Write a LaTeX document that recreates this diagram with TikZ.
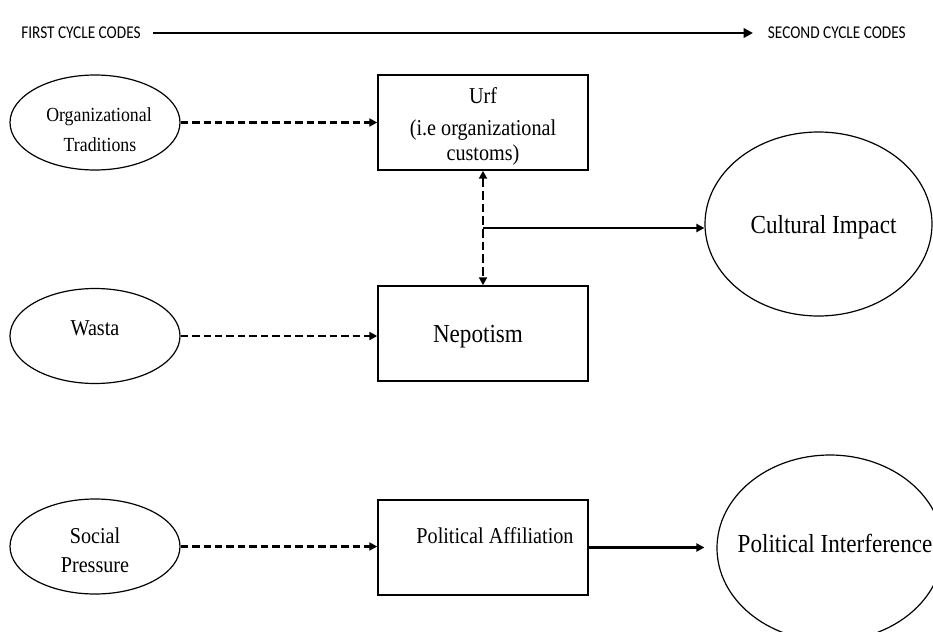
\documentclass[tikz,border=0pt]{standalone}
\usepackage{fontspec}
\setmainfont{Liberation Serif}
\newfontfamily\narrowserif[FakeStretch=0.89]{Liberation Serif}
\newfontfamily\headfont[FakeStretch=0.85]{Carlito}
\usetikzlibrary{shapes.geometric,arrows.meta,calc}

\begin{document}
\begin{tikzpicture}[x=0.75pt,y=-0.75pt,
  box/.style={draw, line width=1.1pt, minimum width=157.5pt, minimum height=71.25pt, inner sep=0pt},
  oval/.style={draw, ellipse, line width=0.9pt, inner sep=0pt},
  smalloval/.style={oval, minimum width=127.5pt, minimum height=71.25pt},
  lbl/.style={anchor=base, inner sep=0pt},
  fhead/.style={font=\headfont\fontsize{13.5}{15}\selectfont},
  fsmall/.style={font=\narrowserif\fontsize{15}{18}\selectfont},
  fmid/.style={font=\narrowserif\fontsize{17}{20}\selectfont},
  fbig/.style={font=\narrowserif\fontsize{19.5}{23}\selectfont},
  dashedarrow/.style={line width=2pt, dash pattern=on 5.6pt off 3pt, -{Triangle[length=6pt,width=6pt]}},
  dashedboth/.style={line width=2pt, dash pattern=on 6.5pt off 3pt, {Triangle[length=6pt,width=6pt]}-{Triangle[length=6pt,width=6pt]}},
  solidarrow/.style={line width=1.9pt, -{Triangle[length=6pt,width=6pt]}}
]
\clip (0,0) rectangle (933,632);
\fill[white] (0,0) rectangle (933,632);

% header: coding stages
\node[anchor=west, inner sep=0pt, fhead] (first) at (21,33) {FIRST CYCLE CODES};
\node[anchor=east, inner sep=0pt, fhead] (second) at (906,33) {SECOND CYCLE CODES};
\draw[line width=2.2pt, -{Triangle[length=7pt,width=7pt]}, shorten <=9pt, shorten >=11pt] (first.east) -- (second.west);

% first cycle codes
\node[smalloval] (org) at (95,122.5) {};
\node[lbl, fsmall] (orgA) at (99,121) {Organizational};
\node[lbl, fsmall] (orgB) at (100,151) {Traditions};

\node[smalloval] (wasta) at (95,336) {};
\node[lbl, fmid] (wastaT) at (95,335) {Wasta};

\node[smalloval] (sp) at (95,546.5) {};
\node[lbl, fmid] (spA) at (95,543) {Social};
\node[lbl, fmid] (spB) at (95,572) {Pressure};

% intermediate codes
\node[box] (urf) at (483,122.5) {};
\node[lbl, fmid] (urfA) at (483,103) {Urf};
\node[lbl, fmid] (urfB) at (483,135) {(i.e organizational};
\node[lbl, fmid] (urfC) at (483,160) {customs)};

\node[box] (nep) at (483,333.5) {};
\node[lbl, fbig] (nepT) at (478,342) {Nepotism};

\node[box] (pa) at (483,547.5) {};
\node[lbl, fmid] (paT) at (495,543) {Political Affiliation};

% second cycle codes
\node[oval, minimum width=170.25pt, minimum height=138pt] (ci) at (818.5,224) {};
\node[lbl, fbig] (ciT) at (823.5,233) {Cultural Impact};

\node[oval, minimum width=169.5pt, minimum height=139.5pt] (pi) at (830,548) {};
\node[lbl, fbig] (piT) at (835,552) {Political Interference};

% connectors
\draw[dashedarrow] (org.east) -- (urf.west);
\draw[dashedarrow] (wasta.east) -- (wasta.east -| nep.west);
\draw[dashedarrow] (sp.east) -- (sp.east -| pa.west);
\draw[dashedboth] (urf.south) -- (nep.north);
\coordinate (fork) at ($(urf.south)!0.5!(nep.north)$);
\draw[solidarrow] (fork) -- (fork -| ci.west);
\draw[solidarrow, line width=2.2pt, shorten >=9pt] (pa.east) -- (pa.east -| pi.west);
\end{tikzpicture}
\end{document}
